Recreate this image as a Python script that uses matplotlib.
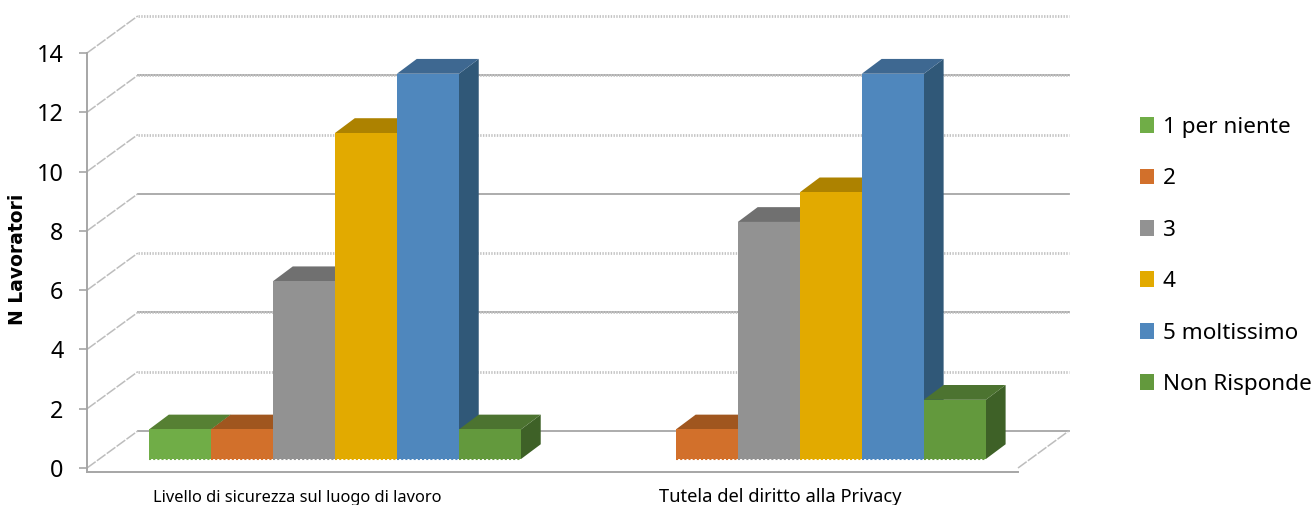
import matplotlib
matplotlib.use("Agg")
import matplotlib.pyplot as plt
from matplotlib.patches import Patch, Polygon

plt.rcParams['font.family'] = ['Noto Sans', 'DejaVu Sans']

# values
categories = ["Livello di sicurezza sul luogo di lavoro", "Tutela del diritto alla Privacy"]
series = ["1 per niente", "2", "3", "4", "5 moltissimo", "Non Risponde"]
livello = [1, 1, 6, 11, 13, 1]
tutela = [0, 1, 8, 9, 13, 2]
y_ticks = [0, 2, 4, 6, 8, 10, 12, 14]

front_col = ["#70AD47", "#D2702B", "#929292", "#E2AA00", "#4F87BD", "#63993D"]
top_col = ["#568033", "#A0561F", "#707070", "#AD8200", "#3E6891", "#4C7330"]
side_col = ["#3F6127", "#7C4318", "#575757", "#876500", "#305878", "#3E6127"]
grid_col = "#a6a6a6"

# 1 x unit = one bar width, depth vectors are in data units
FLOOR_DX, FLOOR_DY = 0.82, 1.25
BAR_DX, BAR_DY = 0.32, 0.5
BAR_BASE = 0.30
XMAX = 15.02

fig = plt.figure(figsize=(13.14, 5.05), dpi=100)
ax = fig.add_axes([87 / 1314, 1 - 472 / 505, (1018 - 87) / 1314, (472 - 53) / 505])
ax.set_xlim(0, XMAX)
ax.set_ylim(-0.135, 14)


def draw_gridline(v, solid, dotted):
    xs = [0, FLOOR_DX, XMAX + FLOOR_DX]
    ys = [v, v + FLOOR_DY, v + FLOOR_DY]
    if solid:
        ax.plot(xs[1:], ys[1:], color=grid_col, lw=1.3, clip_on=False, zorder=1)
    if dotted:
        ax.plot(xs[1:], ys[1:], color="#c4c4c4", lw=2.0, ls=(0, (0.5, 0.5)), clip_on=False, zorder=1)
    ax.plot(xs[:2], ys[:2], color="#bdbdbd", lw=1.1, ls=(0, (7, 1)), clip_on=False, zorder=1)


# (solid, dotted) per level, the wall lines alternate in the original
grid_style = {0: (True, False), 2: (False, True), 4: (True, True), 6: (False, True),
              8: (True, False), 10: (False, True), 12: (True, True), 14: (False, True)}
for v in y_ticks:
    draw_gridline(v, *grid_style[v])
ax.plot([XMAX, XMAX + FLOOR_DX], [0, FLOOR_DY], color="#bdbdbd", lw=1.1, ls=(0, (7, 1)), clip_on=False, zorder=1)


def draw_bar(x, v, i):
    x0, x1 = x, x + 1
    y0, y1 = BAR_BASE, BAR_BASE + v
    side = [(x1, y0), (x1 + BAR_DX, y0 + BAR_DY), (x1 + BAR_DX, y1 + BAR_DY), (x1, y1)]
    top = [(x0, y1), (x0 + BAR_DX, y1 + BAR_DY), (x1 + BAR_DX, y1 + BAR_DY), (x1, y1)]
    front = [(x0, y0), (x1, y0), (x1, y1), (x0, y1)]
    ax.add_patch(Polygon(side, fc=side_col[i], ec="none", clip_on=False, zorder=2))
    ax.add_patch(Polygon(top, fc=top_col[i], ec="none", clip_on=False, zorder=2))
    ax.add_patch(Polygon(front, fc=front_col[i], ec="none", clip_on=False, zorder=2))
    # jagged lower edge of the bars
    ax.plot([x0, x1], [y0, y0], color=front_col[i], lw=1.5, ls=(0, (1, 1)), clip_on=False, zorder=2)


for start, values in zip([1.0, 8.5], [livello, tutela]):
    for i, v in enumerate(values):
        if v > 0:
            draw_bar(start + i, v, i)

for s in ["top", "right"]:
    ax.spines[s].set_visible(False)
for s in ["left", "bottom"]:
    ax.spines[s].set_color(grid_col)
    ax.spines[s].set_linewidth(1.4)

ax.set_yticks(y_ticks)
ax.tick_params(axis="y", color=grid_col, length=6, width=1.2, pad=11, labelsize=16.8)
ax.set_xticks([3.4, 11.18])
ax.set_xticklabels(categories, va="baseline")
ax.tick_params(axis="x", length=0, pad=21.6)
x_labels = ax.get_xticklabels()
x_labels[0].set_fontsize(11.8)
x_labels[1].set_fontsize(13.2)

ax.text(18 / 1314, 1 - 259 / 505, "N Lavoratori", transform=fig.transFigure, rotation=90,
        fontsize=13.5, fontweight="bold", family="DejaVu Sans", ha="center", va="center")

handles = [Patch(fc=c, ec="none") for c in front_col]
fig.legend(handles, series, loc="center left", bbox_to_anchor=(1131 / 1314, 1 - 256 / 505), frameon=False,
           fontsize=16.2, handlelength=0.62, handleheight=0.7, handletextpad=0.4, labelspacing=1.35,
           borderpad=0.4, borderaxespad=0)

fig.savefig("out.png", dpi=100)
